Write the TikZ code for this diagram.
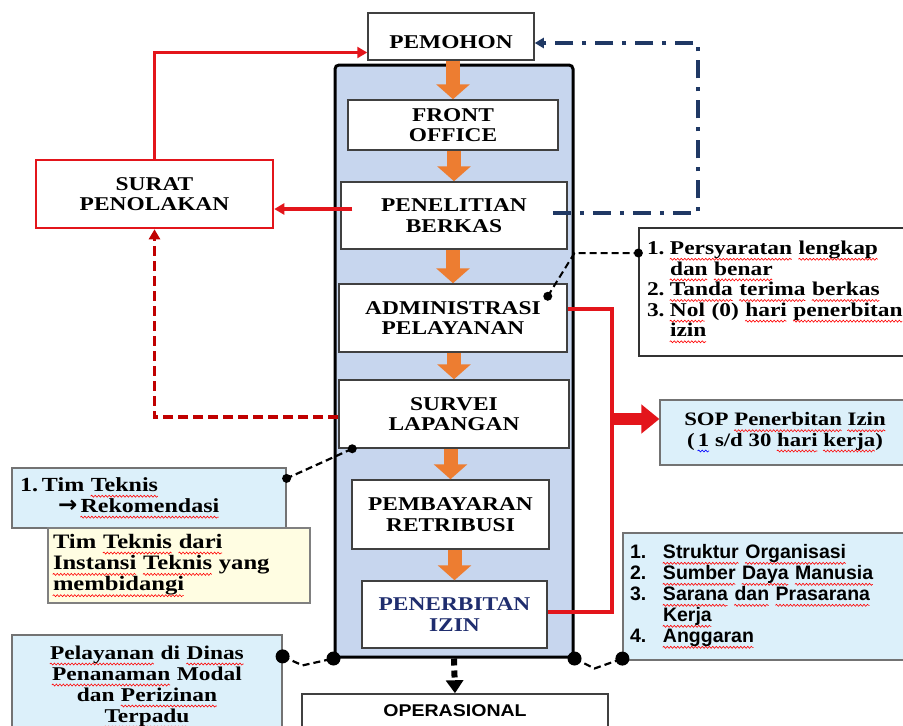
\documentclass[tikz,border=0pt]{standalone}
\usepackage{fontspec}
\usetikzlibrary{arrows.meta,calc,decorations.pathmorphing}
\setmainfont{Liberation Serif}[FakeStretch=1.2]
\newfontfamily\opsfont{Liberation Sans}[FakeStretch=1.15]
\newfontfamily\listfont{Liberation Sans}
\newfontfamily\arrfont{DejaVu Sans}
\definecolor{FrameBlue}{HTML}{C7D6EE}
\definecolor{InfoBlue}{HTML}{DCF0FA}
\definecolor{NoteYellow}{HTML}{FFFDE2}
\definecolor{StepOrange}{HTML}{ED7D31}
\definecolor{RejectRed}{HTML}{E3151B}
\definecolor{DashRed}{HTML}{C00000}
\definecolor{LinkNavy}{HTML}{1F3864}
\definecolor{IzinNavy}{HTML}{1F2D6E}
\newlength\wvlen
\newcommand\wavy[2]{\leavevmode\hbox{\setbox0=\hbox{#2}\wvlen=\wd0\copy0\llap{\tikz[x=1pt,y=1pt,baseline=0pt]\draw[#1,line width=0.6pt,solid,decorate,decoration={snake,amplitude=1pt,segment length=3.5pt}] (0,-4.8) -- (\the\wvlen,-4.8);}}}
\newcommand\sq[1]{\wavy{red}{#1}}
\newcommand\bsq[1]{\wavy{blue}{#1}}
\newcommand\itm[3][23pt]{\makebox[#1][l]{#2}#3}

\begin{document}
\begin{tikzpicture}[x=1pt,y=-1pt,>=Latex,every node/.style={align=center},
  stepbox/.style={draw=black!75,line width=1.5pt,fill=white,font=\fontsize{19.5}{20.5}\selectfont\bfseries},
  infobox/.style={draw=black!55,line width=1.2pt,fill=InfoBlue},
  orarr/.style={draw=StepOrange,line width=14pt,-{Triangle[length=15pt,width=33pt]}},
  redln/.style={draw=RejectRed,line width=3.5pt},
  reddash/.style={draw=DashRed,line width=3.5pt,dash pattern=on 10pt off 5pt},
  navyln/.style={draw=LinkNavy,line width=3.5pt,dash pattern=on 18pt off 9pt on 4pt off 9pt},
  annot/.style={draw=black,line width=2.2pt,dash pattern=on 7pt off 4pt},
  redtip/.style={-{Triangle[length=10pt,width=11pt]}}]
\useasboundingbox (0,0) rectangle (903,726);
\clip (0,0) rectangle (903,726);
\fill[white] (0,0) rectangle (903,726);

\node[draw=black,line width=3pt,rounded corners=4pt,fill=FrameBlue,minimum width=238pt,minimum height=592pt] (frame) at (454,361) {};

\node[stepbox,minimum width=166pt,minimum height=47pt,text height=23pt,text depth=0pt] (pem) at (451,36.5) {PEMOHON};
\node[stepbox,minimum width=210pt,minimum height=50pt] (fo) at (453,125) {FRONT\\OFFICE};
\node[stepbox,minimum width=226pt,minimum height=67pt] (pb) at (454,215.5) {PENELITIAN\\BERKAS};
\node[stepbox,minimum width=228pt,minimum height=68pt] (adm) at (453,318) {ADMINISTRASI\\PELAYANAN};
\node[stepbox,minimum width=230pt,minimum height=68pt] (srv) at (454,414) {SURVEI\\LAPANGAN};
\node[stepbox,minimum width=197pt,minimum height=69pt] (bayar) at (450.5,514.5) {PEMBAYARAN\\RETRIBUSI};
\node[stepbox,text=IzinNavy,minimum width=185pt,minimum height=67pt] (izin) at (454.5,614.5) {PENERBITAN\\IZIN};
\node[stepbox,font=\opsfont\fontsize{17}{20}\selectfont\bfseries,minimum width=306pt,minimum height=34pt] (ops) at (455,711) {OPERASIONAL};

\node[stepbox,draw=RejectRed,line width=2.5pt,minimum width=237pt,minimum height=68pt] (surat) at (154.5,194) {SURAT\\PENOLAKAN};

\node[draw=black!80,line width=1.2pt,fill=white,text width=260pt,inner xsep=8pt,minimum height=128pt,align=left,font=\fontsize{19.5}{19.5}\selectfont\bfseries] (req) at (777,292)
  {\itm{1.}{\sq{Persyaratan} \sq{lengkap}}\\ \itm{}{\sq{dan} \sq{benar}}\\ \itm{2.}{\sq{Tanda} \sq{terima} \sq{berkas}}\\ \itm{3.}{\sq{Nol} (0) \sq{hari} \sq{penerbitan}}\\ \itm{}{\sq{izin}}};
\node[infobox,minimum width=250pt,minimum height=65pt,font=\fontsize{19}{19}\selectfont\bfseries] (sop) at (785,432.5)
  {SOP \sq{Penerbitan} \sq{Izin}\\(\,\bsq{1} s/d 30 \sq{hari} \sq{kerja})};
\node[infobox,text width=258pt,inner xsep=8pt,minimum height=60pt,align=left,font=\fontsize{20}{18}\selectfont\bfseries] (tim) at (149,498)
  {\itm[22pt]{1.}{Tim \sq{Teknis}}\\ \hspace*{38pt}{\arrfont\bfseries\fontsize{23}{18}\selectfont →}\,\sq{Rekomendasi}};
\node[draw=black!50,line width=1.2pt,fill=NoteYellow,text width=252pt,inner xsep=5pt,minimum height=75pt,align=left,font=\fontsize{20.5}{20}\selectfont\bfseries] (yel) at (179,565.5)
  {Tim \sq{Teknis} \sq{dari}\\ \sq{Instansi} \sq{Teknis} yang\\ \sq{membidangi}};
\node[infobox,text width=254pt,inner xsep=8pt,minimum height=104pt,font=\fontsize{19.5}{21}\selectfont\bfseries] (pel) at (147,687)
  {\sq{Pelayanan} di \sq{Dinas}\\ \sq{Penanaman} Modal\\ dan \sq{Perizinan}\\ \sq{Terpadu}};
\node[infobox,text width=278pt,inner xsep=7pt,minimum height=127pt,align=left,font=\listfont\fontsize{19.5}{21}\selectfont\bfseries] (struk) at (769,596.5)
  {\itm[33pt]{1.}{\sq{Struktur} \sq{Organisasi}}\\ \itm[33pt]{2.}{\sq{Sumber} \sq{Daya} \sq{Manusia}}\\ \itm[33pt]{3.}{\sq{Sarana} \sq{dan} \sq{Prasarana}}\\ \itm[33pt]{}{\sq{Kerja}}\\ \itm[33pt]{4.}{\sq{Anggaran}}};

\foreach \a/\b in {pem/fo,fo/pb,pb/adm,adm/srv,srv/bayar,bayar/izin}
  \draw[orarr] (\b.north |- \a.south) -- (\b.north);
\draw[line width=6pt,dash pattern=on 7pt off 5pt,-{Triangle[length=13pt,width=17pt]}] (frame.south) -- (ops.north);

\draw[redln,redtip] (surat.north) |- ([yshift=-16pt]pem.west);
\coordinate (pbred) at ([xshift=12pt,yshift=6.5pt]pb.west);
\draw[redln,redtip] (pbred) -- (pbred -| surat.east);
\draw[reddash,redtip] ([yshift=-3pt]srv.west) -| (surat.south);

\coordinate (pbnv) at ([xshift=-15pt,yshift=2.5pt]pb.east);
\coordinate (nvc) at (698,43);
\draw[navyln,-{Triangle[length=9pt,width=10pt]}] (pbnv) -| (nvc) -- (nvc -| pem.east);

\coordinate (rv) at (612,419);
\draw[redln] ([yshift=9pt]adm.east) -| (rv) |- ([yshift=2.5pt]izin.east);
\draw[draw=RejectRed,line width=12pt,-{Triangle[length=18pt,width=28pt]}] (rv) -- (rv -| sop.west);

\coordinate (admdot) at ([xshift=-20pt,yshift=-13pt]adm.north east);
\coordinate (reqdot) at ([yshift=39pt]req.west);
\draw[annot,line width=2pt] (admdot) -- (frame.east |- reqdot) -- (reqdot);
\coordinate (srvdot) at ([xshift=14pt]srv.south west);
\coordinate (timdot) at ([yshift=-11pt]tim.north east);
\draw[annot] (srvdot) -- (timdot);
\coordinate (peldot) at ([yshift=-22pt]pel.north east);
\coordinate (strdot) at ([yshift=2pt]struk.south west);
\draw[annot] (peldot) -- ++(20,9) -- (frame.south west);
\draw[annot] (frame.south east) -- ++(20,10) -- (strdot);
\foreach \d in {admdot,reqdot,srvdot,timdot}
  \fill (\d) circle (4.5pt);
\foreach \d in {peldot,strdot,frame.south west,frame.south east}
  \fill (\d) circle (7pt);
\end{tikzpicture}
\end{document}
